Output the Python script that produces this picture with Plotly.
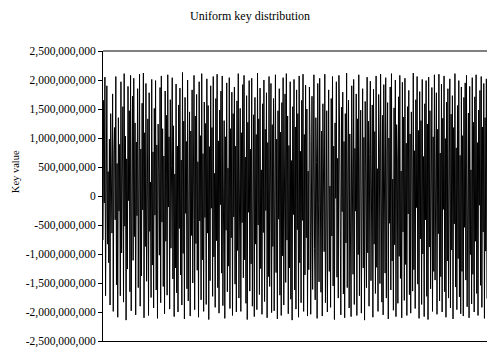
import plotly.graph_objects as go

# Sampled key values, in millions
key_values_m = [
    -760, 1650, -120, 2050, -1720, 1310, 1900, -830, 420, -1150, 980, -1880, 1420, 310, -640, 1760, -1990, 720, 1180, -410,
    2060, -1530, 560, -2090, 1350, -260, 890, -1720, 1970, -980, 150, 1540, -1830, 2110, -520, 1030, -2140, 640, -1260, 1890,
    -80, 1470, -1650, 2080, -1980, 370, 1720, -1110, 2030, -700, 1260, -2050, 930, -340, 1850, -1580, 470, 2100, -1900, 810,
    -1380, 1600, -240, 2120, -2100, 1090, -870, 1940, -1470, 560, 1330, -2060, 1780, -610, 240, -1750, 2010, -1190, 760, -1930,
    1510, -330, 1990, -1620, 880, -2110, 1240, 410, -1020, 1870, -1840, 2070, -450, 1160, -1560, 690, -2030, 1810, -780, 1390,
    -1710, 2090, -190, 1020, -1950, 1660, -900, 530, 2040, -1430, 1210, -2080, 380, -1240, 1930, -1670, 860, -2000, 1570, -560,
    1860, -1360, 620, -1880, 2130, -990, 1290, -2120, 1700, -300, 940, -1600, 2000, -1810, 460, 1450, -2070, 1120, -680, 1830,
    -1500, 270, 2080, -1960, 1380, -820, 1750, -1280, 590, -2090, 1970, -430, 1040, -1790, 2110, -1100, 730, -1990, 1620, -370,
    1250, -1870, 2020, -640, 1560, -2130, 850, -1460, 1900, -210, 1180, -1730, 2060, -1050, 390, -1920, 1680, -770, 2100, -1580,
    950, -2020, 1480, -150, 1810, -1330, 2070, -1890, 640, 1300, -2110, 1020, -590, 1950, -1650, 480, -1210, 2040, -1940, 1160,
    -720, 1790, -2060, 1420, -360, 1880, -1520, 860, -2000, 1640, -940, 2110, -1760, 300, 1510, -1990, 1090, -460, 1920, -1410,
    2080, -1100, 670, -1850, 1730, -2130, 1270, -280, 1990, -1640, 810, -1170, 2030, -1900, 550, 1400, -2080, 1700, -830, 1060,
    -1960, 2120, -500, 1330, -1700, 1860, -1250, 450, -2040, 1590, -630, 2000, -1820, 1150, -250, 1780, -2100, 920, -1390, 2060,
    -1560, 720, 1940, -2010, 1230, -870, 1680, -1980, 520, 2090, -1320, 980, -2120, 1470, -400, 1850, -1710, 1100, -2060, 1610,
    -1030, 2040, -1880, 350, 1760, -1490, 2110, -760, 1380, -2030, 870, -1240, 1970, -1780, 610, -2140, 1540, -320, 2010, -1620,
    1190, -1950, 1830, -580, 1420, -2090, 2070, -1150, 770, -1840, 1650, -420, 2100, -1990, 1060, -1360, 1910, -720, 1500, -2070,
    430, -1270, 1880, 960, -2040, -380, 1720, -1610, 250, 2090, -910, -1790, 1350, 580, -2110, 1940, -140, -1480, 2030, 790,
    -1660, 1120, -2070, 1590, 330, -960, 2100, -1840, -520, 1470, -2000, 1010, 1830, -1300, 170, -1920, 1680, -690, 2060, -1550,
    860, -2130, 1260, -40, 1970, -1400, 650, -1760, 2080, 1190, -1050, -2050, 1530, -270, 1790, -1690, 940, -2100, 1420, -810,
    2120, -1580, 380, 1650, -1930, 1070, -620, -2080, 1900, 490, -1350, 2010, -1870, 820, -260, 1760, -2060, 1330, -1010, 2090,
    -1720, 590, 1480, -2020, -700, 1850, -1240, 1010, -2140, 1630, 210, -1580, 2050, -980, 1290, -1900, 720, 1980, -1460, -350,
    1570, -2090, 1840, -830, 1110, -1680, 2070, -1230, 470, -1990, 1750, 880, -1510, 2100, -560, -1830, 1390, -2050, 1920, -90,
    -1330, 2040, -1760, 760, 1610, -2120, 1000, -470, 1880, -1620, 2110, -1120, 290, -1970, 1520, -840, 2000, -2080, 1230, 640,
    -1850, 1710, -1040, 2080, -1420, 430, -2100, 1960, -620, 1360, -1800, 2030, -1180, 910, -2060, 1540, -310, 1820, -1700, 1070,
    -2020, 1450, 560, -1640, 2120, -1270, 780, -1940, 1660, -200, 2060, -1520, 1130, -2110, 1800, -740, 1300, -1870, 2010, -1000,
    680, -2080, 1590, -410, 1990, -1730, 1240, -2130, 2050, -880, 1470, -1600, 330, 1870, -1990, 1020, -1300, 2090, -1450, 540,
    1780, -2040, 1150, -650, 2100, -1810, 740, -1390, 1930, -2000, 1340, -230, 2070, -1650, 990, -2090, 1620, -1120, 1850, -1760,
    360, 2020, -1930, 1410, -930, 1730, -2120, 1180, -480, 2110, -1570, 830, -1960, 1560, -1080, 1990, -1740, 700, -2030, 1880,
    -1300, 1040, -2070, 1700, -540, 1950, -1450, 2080, -1910, 610, 1430, -2100, 1890, -1010, 450, -1860, 2040, -1350, 1270, -2000,
    1710, -780, 2090, -1680, 920, -2060, 1480, -160, 1820, -1540, 2060, -1920, 1190, -620, 1940, -2110, 1350, -950, 2020, -1770,
]

tick_values = [2.5e9, 2.0e9, 1.5e9, 1.0e9, 5.0e8, 0, -5.0e8, -1.0e9, -1.5e9, -2.0e9, -2.5e9]
tick_labels = ["2,500,000,000", "2,000,000,000", "1,500,000,000", "1,000,000,000", "500,000,000", "0",
               "-500,000,000", "-1,000,000,000", "-1,500,000,000", "-2,000,000,000", "-2,500,000,000"]

keys = [v * 1e6 for v in key_values_m]
positions = list(range(1, len(keys) + 1))

SERIF = "Liberation Serif"

fig = go.Figure(
    go.Scatter(
        x=positions,
        y=keys,
        mode="lines",
        line=dict(color="#000000", width=1),
        hoverinfo="skip",
    )
)

fig.update_layout(
    width=487,
    height=348,
    margin=dict(l=103, r=0, t=51, b=5),
    paper_bgcolor="white",
    plot_bgcolor="white",
    showlegend=False,
    title=dict(
        text="Uniform key distribution",
        x=250 / 487,
        xref="container",
        xanchor="center",
        y=1 - 16 / 348,
        yref="container",
        yanchor="middle",
        font=dict(family=SERIF, size=12, color="#000000"),
    ),
    xaxis=dict(
        range=[1, len(keys)],
        showgrid=False,
        zeroline=False,
        showticklabels=False,
        ticks="",
        showline=True,
        linecolor="#000000",
        linewidth=1,
    ),
    yaxis=dict(
        range=[-2.5e9, 2.5e9],
        tickvals=tick_values,
        ticktext=tick_labels,
        ticks="outside",
        ticklen=4,
        tickcolor="#000000",
        tickwidth=1,
        ticklabeloverflow="allow",
        showgrid=False,
        zeroline=False,
        showline=True,
        linecolor="#000000",
        linewidth=1,
        tickfont=dict(family=SERIF, size=11.5, color="#000000"),
    ),
    shapes=[
        dict(type="line", xref="paper", yref="paper", x0=0, x1=1, y0=1, y1=1,
             line=dict(color="#808080", width=2)),
    ],
    annotations=[
        dict(
            text="Key value",
            xref="paper",
            yref="paper",
            x=-88 / 384,
            y=(343 - 173) / 292,
            xanchor="center",
            yanchor="middle",
            textangle=-90,
            showarrow=False,
            font=dict(family=SERIF, size=10.5, color="#000000"),
        )
    ],
)

fig.write_html("out.html")
